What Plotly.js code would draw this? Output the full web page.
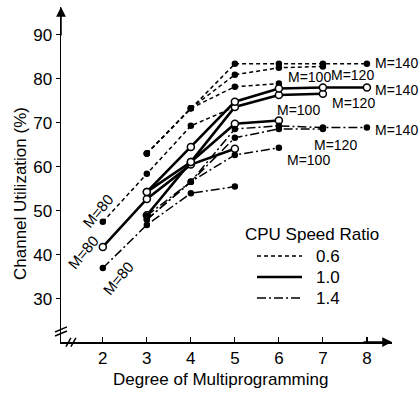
<!DOCTYPE html>
<html>
<head>
<meta charset="utf-8">
<script src="https://cdn.plot.ly/plotly-3.0.1.min.js"></script>
<style>html,body{margin:0;padding:0;background:#fff;}#chart{width:420px;height:396px;}</style>
</head>
<body>
<div id="chart"></div>
<script>
// Degree of multiprogramming (x categories)
const degrees = [2, 3, 4, 5, 6, 7, 8];
// Channel utilization (%) — CPU speed ratio 0.6 (dashed)
const cpu06_M80  = [47.5, 58.4, 69.3, 73.6, null, null, null];
const cpu06_M100 = [null, 63.0, 73.3, 78.2, 78.9, null, null];
const cpu06_M120 = [null, 63.0, 73.3, 80.9, 82.5, 82.8, null];
const cpu06_M140 = [null, 63.0, 73.3, 83.4, 83.4, 83.4, 83.4];
// CPU speed ratio 1.0 (solid)
const cpu10_M80  = [41.8, 52.7, 60.5, 64.1, null, null, null];
const cpu10_M100 = [null, 54.3, 61.1, 69.8, 70.5, null, null];
const cpu10_M120 = [null, 49.0, 61.1, 73.6, 76.3, 76.6, null];
const cpu10_M140 = [null, 54.3, 64.5, 74.8, 77.8, 78.0, 78.0];
// CPU speed ratio 1.4 (dash-dot)
const cpu14_M80  = [37.0, 46.8, 54.0, 55.5, null, null, null];
const cpu14_M100 = [null, 48.0, 56.6, 62.7, 64.3, null, null];
const cpu14_M120 = [null, 48.0, 56.6, 66.6, 68.6, 68.6, null];
const cpu14_M140 = [null, 48.9, 56.6, 68.6, 69.3, 68.9, 68.9];

const speedRatios = ['0.6', '1.0', '1.4'];
const yTicks = [30, 40, 50, 60, 70, 80, 90];
const xTicks = [2, 3, 4, 5, 6, 7, 8];

const styles = {
  '0.6': {dash: '4px,3px', width: 1.5, mfill: '#000', msize: 5},
  '1.0': {dash: 'solid', width: 2.6, mfill: '#fff', msize: 7},
  '1.4': {dash: '9px,3px,2px,3px', width: 1.5, mfill: '#000', msize: 5}
};
const groups = [
  ['0.6', [cpu06_M80, cpu06_M100, cpu06_M120, cpu06_M140]],
  ['1.0', [cpu10_M80, cpu10_M100, cpu10_M120, cpu10_M140]],
  ['1.4', [cpu14_M80, cpu14_M100, cpu14_M120, cpu14_M140]]
];
const traces = [];
groups.forEach(([ratio, series]) => {
  const st = styles[ratio];
  series.forEach(ys => {
    traces.push({
      x: degrees, y: ys, type: 'scatter', mode: 'lines+markers', name: 'CPU ' + ratio,
      showlegend: false, connectgaps: false, cliponaxis: false,
      line: {color: '#000', width: st.width, dash: st.dash},
      marker: {symbol: 'circle', size: st.msize, color: st.mfill, line: {color: '#000', width: 1.5}}
    });
  });
});

const F = 'Liberation Sans, Arial, sans-serif';
const lf = {family: F, size: 14, color: '#000'};
function lab(text, x, y, opts) {
  return Object.assign({text: text, x: x, y: y, xref: 'x', yref: 'y', showarrow: false,
    font: lf, xanchor: 'left', yanchor: 'middle'}, opts || {});
}
// paper-coordinate helpers for the manual legend (pixel -> paper)
const px = v => (v - 61) / 331;
const py = v => (342 - v) / 335;
const annotations = [
  lab('M=140', 8.14, 83.6), lab('M=140', 8.14, 77.5), lab('M=140', 8.14, 68.4),
  lab('M=100', 6.16, 80.45),
  lab('M=120', 7.14, 80.9), lab('M=100', 5.91, 72.95), lab('M=120', 7.16, 74.5),
  lab('M=120', 6.75, 65.0), lab('M=100', 6.14, 61.6),
  lab('M=80', 1.9, 50.0, {xanchor: 'center', textangle: -50, font: {family: F, size: 15, color: '#000'}}),
  lab('M=80', 1.545, 40.6, {xanchor: 'center', textangle: -50, font: {family: F, size: 15, color: '#000'}}),
  lab('M=80', 2.34, 34.7, {xanchor: 'center', textangle: -50, font: {family: F, size: 15, color: '#000'}}),
  // axis arrows
  {x: 0, y: 1, xref: 'paper', yref: 'paper', ax: 0, ay: 30, showarrow: true, arrowhead: 2, arrowsize: 1.3, arrowwidth: 1.5, arrowcolor: '#000', text: ''},
  {x: 1, y: 0, xref: 'paper', yref: 'paper', ax: -30, ay: 0, showarrow: true, arrowhead: 2, arrowsize: 1.3, arrowwidth: 1.5, arrowcolor: '#000', text: ''},
  // axis titles
  {text: 'Channel Utilization (%)', xref: 'paper', yref: 'paper', x: px(20), y: py(194), textangle: -90,
   xanchor: 'center', yanchor: 'middle', showarrow: false, font: {family: F, size: 17, color: '#000'}},
  {text: 'Degree of Multiprogramming', xref: 'paper', yref: 'paper', x: px(220), y: py(379),
   xanchor: 'center', yanchor: 'middle', showarrow: false, font: {family: F, size: 17, color: '#000'}},
  // legend
  {text: 'CPU Speed Ratio', xref: 'paper', yref: 'paper', x: px(312), y: py(234),
   xanchor: 'center', yanchor: 'middle', showarrow: false, font: {family: F, size: 17, color: '#000'}}
];
const legendY = [256, 277, 298];
speedRatios.forEach((r, i) => {
  annotations.push({text: r, xref: 'paper', yref: 'paper', x: px(314), y: py(legendY[i]),
    xanchor: 'left', yanchor: 'middle', showarrow: false, font: {family: F, size: 17, color: '#000'}});
});
const shapes = [
  {type: 'line', xref: 'paper', yref: 'paper', x0: -0.018, y0: 0.030, x1: 0.018, y1: 0.045, line: {color: '#000', width: 1.5}},
  {type: 'line', xref: 'paper', yref: 'paper', x0: -0.018, y0: 0.018, x1: 0.018, y1: 0.033, line: {color: '#000', width: 1.5}},
  {type: 'line', xref: 'paper', yref: 'paper', x0: 0.015, y0: -0.014, x1: 0.030, y1: 0.012, line: {color: '#000', width: 1.5}},
  {type: 'line', xref: 'paper', yref: 'paper', x0: 0.030, y0: -0.014, x1: 0.045, y1: 0.012, line: {color: '#000', width: 1.5}}
];
speedRatios.forEach((r, i) => {
  const st = styles[r];
  shapes.push({type: 'line', xref: 'paper', yref: 'paper', x0: px(257), x1: px(302),
    y0: py(legendY[i]), y1: py(legendY[i]), line: {color: '#000', width: st.width, dash: st.dash}});
});

const layout = {
  width: 420, height: 396,
  margin: {l: 61, r: 28, t: 7, b: 54},
  paper_bgcolor: '#fff', plot_bgcolor: '#fff',
  showlegend: false,
  xaxis: {
    range: [1.05, 8.57], tickvals: xTicks, ticktext: xTicks.map(String),
    showgrid: false, zeroline: false, showline: true, linecolor: '#000', linewidth: 1.5,
    ticks: 'inside', ticklen: 5, tickwidth: 1.2, tickcolor: '#000',
    tickfont: {family: F, size: 17, color: '#000'}
  },
  yaxis: {
    range: [20.2, 96.3], tickvals: yTicks, ticktext: yTicks.map(String),
    showgrid: false, zeroline: false, showline: true, linecolor: '#000', linewidth: 1.5,
    ticks: 'outside', ticklen: 4, tickwidth: 1.2, tickcolor: '#000',
    tickfont: {family: F, size: 17, color: '#000'}
  },
  annotations: annotations,
  shapes: shapes
};
Plotly.newPlot('chart', traces, layout, {displayModeBar: false, staticPlot: true});
</script>
</body>
</html>
